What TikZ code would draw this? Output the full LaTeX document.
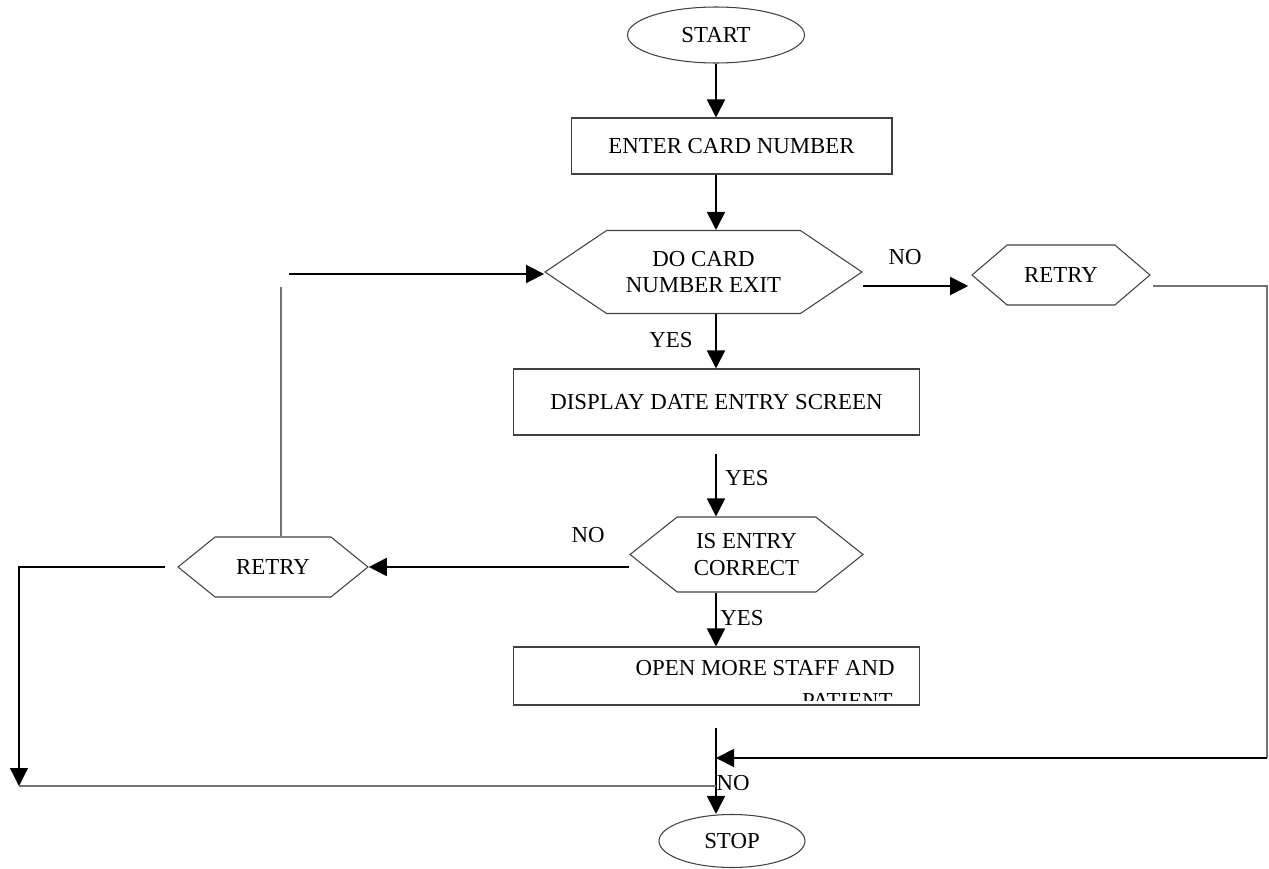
\documentclass[tikz,border=0pt]{standalone}
\usepackage{fontspec}
\setmainfont{Liberation Serif}
\usetikzlibrary{shapes}
\usetikzlibrary{arrows.meta}

\begin{document}
\begin{tikzpicture}[x=0.02cm,y=-0.02cm,>={Triangle[length=0.36cm,width=0.36cm]},
  every node/.style={font=\fontsize{13}{15}\selectfont,inner sep=0pt},
  terminal/.style={shape=ellipse,draw=black!75,line width=0.6pt},
  procbox/.style={shape=rectangle,draw=black!75,line width=0.6pt},
  hexbox/.style={shape=signal,signal to=west and east,draw=black!75,line width=0.6pt,align=center},
  arr/.style={->,draw=black,line width=1pt},
  link/.style={draw=black!55,line width=0.9pt},
  ]
  \useasboundingbox (0,0) rectangle (1269,869);
  % create the nodes
  \node[terminal,minimum width=3.54cm,minimum height=1.12cm] (start) at (716,35) {START};
  \node[procbox,minimum width=6.42cm,minimum height=1.12cm] (card) at (731.5,146) {ENTER CARD NUMBER};
  \node[hexbox,minimum width=6.34cm,minimum height=1.66cm,signal pointer angle=68] (check1) at (703.5,272) {DO CARD\\NUMBER EXIT};
  \node[hexbox,minimum width=3.56cm,minimum height=1.2cm,signal pointer angle=81] (retry1) at (1061,275) {RETRY};
  \node[procbox,minimum width=8.14cm,minimum height=1.32cm] (screen) at (716.5,402) {DISPLAY DATE ENTRY SCREEN};
  \node[hexbox,minimum width=4.66cm,minimum height=1.5cm,signal pointer angle=77] (check2) at (746.5,554.5) {IS ENTRY\\CORRECT};
  \node[hexbox,minimum width=3.8cm,minimum height=1.2cm,signal pointer angle=78] (retry2) at (273,567) {RETRY};
  \node[procbox,minimum width=8.14cm,minimum height=1.16cm] (open) at (716.5,676) {};
  \node[anchor=base east] (open1) at (895,675) {OPEN MORE STAFF AND};
  \begin{scope}
    \clip ([yshift=0.1cm]open.south west) rectangle (open.north east);
    \node[anchor=base east] (open2) at (893,708) {PATIENT};
  \end{scope}
  \node[terminal,minimum width=2.92cm,minimum height=1.06cm] (stop) at (732,841) {STOP};
  % helper points
  \coordinate (spine) at (716,0);
  \coordinate (loop) at (281,287);
  \coordinate (loopin) at (289,274);
  \coordinate (ldown) at (19,786);
  \coordinate (rout) at (1153,286);
  \coordinate (rdown) at (1267,758);
  % main line
  \draw[arr] (start.south -| spine) -- (card.north -| spine);
  \draw[arr] (card.south -| spine) -- (check1.north -| spine);
  \draw[arr] (check1.south -| spine) -- (screen.north -| spine);
  \draw[arr] ([yshift=-0.36cm]screen.south -| spine) -- (check2.north -| spine);
  \draw[arr] (check2.south -| spine) -- (open.north -| spine);
  \draw[arr] ([yshift=-0.44cm]open.south -| spine) -- (stop.north -| spine);
  % side branches
  \draw[arr] (check1.east |- rout) -- ([xshift=-0.06cm]retry1.west |- rout);
  \draw[link] (rout) -| (rdown);
  \draw[arr] (rdown) -- (rdown -| spine);
  \draw[arr] (check2.west |- retry2.east) -- (retry2.east);
  \draw[link] (retry2.north -| loop) -- (loop);
  \draw[arr] (loopin) -- (loopin -| check1.west);
  \draw[->,line width=0.7pt] ([xshift=-0.24cm]retry2.west) -| (ldown);
  \draw[link] (ldown) -- (ldown -| spine);
  % labels
  \node (no1) at (905,257) {NO};
  \node (yes1) at (671,340) {YES};
  \node (yes2) at (747,478) {YES};
  \node (no2) at (588,535) {NO};
  \node (yes3) at (742,618) {YES};
  \node (no3) at (733,783) {NO};
\end{tikzpicture}
\end{document}
